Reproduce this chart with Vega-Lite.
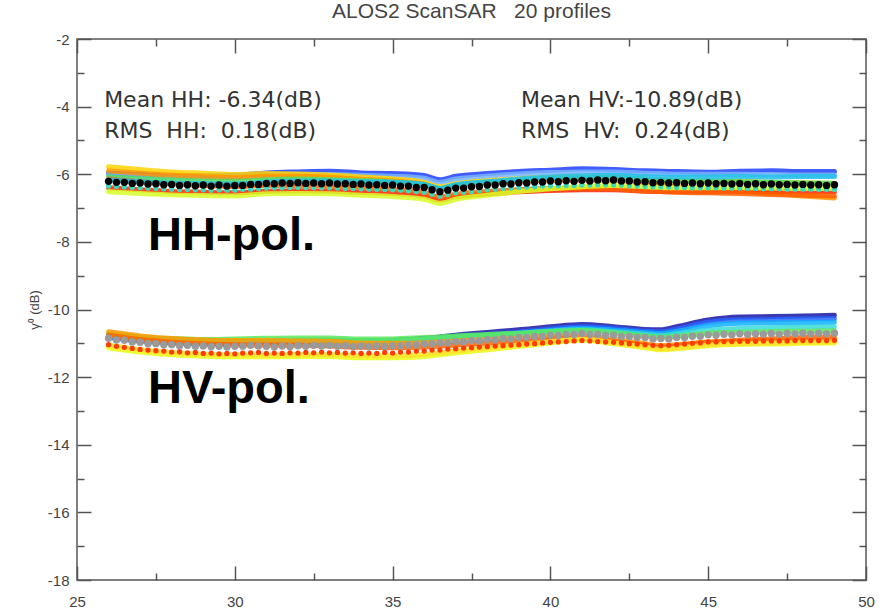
{
"$schema": "https://vega.github.io/schema/vega-lite/v6.json",
"width": 789, "height": 541,
"autosize": "none",
"padding": {"left": 77, "top": 39, "right": 21, "bottom": 35},
"background": "white",
"config": {"view": {"stroke": "#555", "strokeWidth": 1.5}},
"title": {"text": "ALOS2 ScanSAR\u00a0\u00a0\u00a020 profiles", "font": "Liberation Sans", "fontSize": 21, "fontWeight": "normal", "color": "#444", "offset": 10},
"datasets": {
"lines": [
{"x":26,"HH01":-5.97,"HH02":-6.02,"HH03":-5.78,"HH04":-5.90,"HH05":-6.07,"HH06":-6.40,"HH07":-6.14,"HH08":-6.52,"HH09":-6.17,"HV01":-10.81,"HV02":-10.82,"HV03":-10.78,"HV04":-10.74,"HV05":-10.71,"HV06":-10.66,"HV07":-10.76,"HV08":-11.14,"HV09":-11.06},
{"x":27,"HH01":-6.01,"HH02":-6.06,"HH03":-5.86,"HH04":-5.97,"HH05":-6.13,"HH06":-6.46,"HH07":-6.22,"HH08":-6.57,"HH09":-6.22,"HV01":-10.91,"HV02":-10.93,"HV03":-10.88,"HV04":-10.85,"HV05":-10.81,"HV06":-10.78,"HV07":-10.89,"HV08":-11.26,"HV09":-11.19},
{"x":28,"HH01":-6.03,"HH02":-6.09,"HH03":-5.93,"HH04":-6.03,"HH05":-6.17,"HH06":-6.51,"HH07":-6.28,"HH08":-6.61,"HH09":-6.26,"HV01":-10.96,"HV02":-10.99,"HV03":-10.94,"HV04":-10.91,"HV05":-10.86,"HV06":-10.86,"HV07":-10.97,"HV08":-11.34,"HV09":-11.27},
{"x":29,"HH01":-6.04,"HH02":-6.10,"HH03":-5.97,"HH04":-6.07,"HH05":-6.20,"HH06":-6.53,"HH07":-6.33,"HH08":-6.63,"HH09":-6.28,"HV01":-10.98,"HV02":-11.01,"HV03":-10.97,"HV04":-10.94,"HV05":-10.89,"HV06":-10.90,"HV07":-11.02,"HV08":-11.38,"HV09":-11.32},
{"x":30,"HH01":-6.03,"HH02":-6.10,"HH03":-6.01,"HH04":-6.10,"HH05":-6.21,"HH06":-6.55,"HH07":-6.36,"HH08":-6.64,"HH09":-6.29,"HV01":-10.97,"HV02":-11.01,"HV03":-10.97,"HV04":-10.94,"HV05":-10.87,"HV06":-10.92,"HV07":-11.04,"HV08":-11.40,"HV09":-11.34},
{"x":31,"HH01":-5.96,"HH02":-6.03,"HH03":-5.98,"HH04":-6.06,"HH05":-6.16,"HH06":-6.50,"HH07":-6.33,"HH08":-6.58,"HH09":-6.23,"HV01":-10.95,"HV02":-10.98,"HV03":-10.95,"HV04":-10.92,"HV05":-10.85,"HV06":-10.92,"HV07":-11.05,"HV08":-11.40,"HV09":-11.35},
{"x":32,"HH01":-5.93,"HH02":-6.00,"HH03":-5.99,"HH04":-6.06,"HH05":-6.14,"HH06":-6.49,"HH07":-6.33,"HH08":-6.57,"HH09":-6.20,"HV01":-10.92,"HV02":-10.96,"HV03":-10.93,"HV04":-10.90,"HV05":-10.84,"HV06":-10.93,"HV07":-11.06,"HV08":-11.39,"HV09":-11.34},
{"x":33,"HH01":-5.91,"HH02":-6.01,"HH03":-6.02,"HH04":-6.09,"HH05":-6.16,"HH06":-6.50,"HH07":-6.36,"HH08":-6.58,"HH09":-6.20,"HV01":-10.91,"HV02":-10.95,"HV03":-10.92,"HV04":-10.90,"HV05":-10.84,"HV06":-10.94,"HV07":-11.08,"HV08":-11.39,"HV09":-11.34},
{"x":34,"HH01":-5.96,"HH02":-6.03,"HH03":-6.08,"HH04":-6.15,"HH05":-6.19,"HH06":-6.54,"HH07":-6.40,"HH08":-6.62,"HH09":-6.22,"HV01":-10.92,"HV02":-10.96,"HV03":-10.94,"HV04":-10.92,"HV05":-10.87,"HV06":-10.99,"HV07":-11.12,"HV08":-11.43,"HV09":-11.37},
{"x":35,"HH01":-5.98,"HH02":-6.06,"HH03":-6.14,"HH04":-6.20,"HH05":-6.23,"HH06":-6.57,"HH07":-6.45,"HH08":-6.66,"HH09":-6.24,"HV01":-10.91,"HV02":-10.95,"HV03":-10.93,"HV04":-10.92,"HV05":-10.87,"HV06":-11.00,"HV07":-11.13,"HV08":-11.43,"HV09":-11.37},
{"x":36,"HH01":-6.04,"HH02":-6.12,"HH03":-6.24,"HH04":-6.29,"HH05":-6.30,"HH06":-6.65,"HH07":-6.54,"HH08":-6.74,"HH09":-6.30,"HV01":-10.85,"HV02":-10.89,"HV03":-10.88,"HV04":-10.88,"HV05":-10.83,"HV06":-10.98,"HV07":-11.11,"HV08":-11.39,"HV09":-11.33},
{"x":36.5,"HH01":-6.16,"HH02":-6.24,"HH03":-6.37,"HH04":-6.42,"HH05":-6.42,"HH06":-6.77,"HH07":-6.67,"HH08":-6.86,"HH09":-6.42,"HV01":-10.81,"HV02":-10.86,"HV03":-10.85,"HV04":-10.85,"HV05":-10.81,"HV06":-10.96,"HV07":-11.08,"HV08":-11.34,"HV09":-11.28},
{"x":37,"HH01":-6.06,"HH02":-6.14,"HH03":-6.28,"HH04":-6.33,"HH05":-6.32,"HH06":-6.67,"HH07":-6.59,"HH08":-6.74,"HH09":-6.31,"HV01":-10.76,"HV02":-10.82,"HV03":-10.81,"HV04":-10.82,"HV05":-10.78,"HV06":-10.93,"HV07":-11.05,"HV08":-11.28,"HV09":-11.23},
{"x":38,"HH01":-5.98,"HH02":-6.06,"HH03":-6.19,"HH04":-6.26,"HH05":-6.24,"HH06":-6.59,"HH07":-6.51,"HH08":-6.62,"HH09":-6.22,"HV01":-10.68,"HV02":-10.75,"HV03":-10.76,"HV04":-10.77,"HV05":-10.74,"HV06":-10.89,"HV07":-11.00,"HV08":-11.19,"HV09":-11.14},
{"x":39,"HH01":-5.92,"HH02":-5.99,"HH03":-6.13,"HH04":-6.21,"HH05":-6.17,"HH06":-6.52,"HH07":-6.46,"HH08":-6.51,"HH09":-6.14,"HV01":-10.60,"HV02":-10.67,"HV03":-10.70,"HV04":-10.71,"HV05":-10.70,"HV06":-10.85,"HV07":-10.94,"HV08":-11.09,"HV09":-11.05},
{"x":40,"HH01":-5.88,"HH02":-5.95,"HH03":-6.09,"HH04":-6.17,"HH05":-6.12,"HH06":-6.48,"HH07":-6.42,"HH08":-6.43,"HH09":-6.08,"HV01":-10.51,"HV02":-10.58,"HV03":-10.62,"HV04":-10.64,"HV05":-10.65,"HV06":-10.80,"HV07":-10.88,"HV08":-10.99,"HV09":-10.95},
{"x":41,"HH01":-5.84,"HH02":-5.93,"HH03":-6.08,"HH04":-6.17,"HH05":-6.11,"HH06":-6.46,"HH07":-6.42,"HH08":-6.37,"HH09":-6.05,"HV01":-10.44,"HV02":-10.51,"HV03":-10.56,"HV04":-10.60,"HV05":-10.62,"HV06":-10.77,"HV07":-10.84,"HV08":-10.90,"HV09":-10.87},
{"x":42,"HH01":-5.86,"HH02":-5.93,"HH03":-6.08,"HH04":-6.18,"HH05":-6.10,"HH06":-6.46,"HH07":-6.43,"HH08":-6.33,"HH09":-6.03,"HV01":-10.51,"HV02":-10.56,"HV03":-10.61,"HV04":-10.66,"HV05":-10.69,"HV06":-10.88,"HV07":-10.94,"HV08":-11.01,"HV09":-10.98},
{"x":43,"HH01":-5.90,"HH02":-5.97,"HH03":-6.14,"HH04":-6.28,"HH05":-6.15,"HH06":-6.50,"HH07":-6.49,"HH08":-6.37,"HH09":-6.07,"HV01":-10.59,"HV02":-10.64,"HV03":-10.68,"HV04":-10.73,"HV05":-10.78,"HV06":-11.01,"HV07":-11.06,"HV08":-11.13,"HV09":-11.11},
{"x":43.5,"HH01":-5.91,"HH02":-5.98,"HH03":-6.16,"HH04":-6.33,"HH05":-6.17,"HH06":-6.51,"HH07":-6.51,"HH08":-6.39,"HH09":-6.08,"HV01":-10.60,"HV02":-10.66,"HV03":-10.71,"HV04":-10.77,"HV05":-10.82,"HV06":-11.07,"HV07":-11.12,"HV08":-11.19,"HV09":-11.17},
{"x":44,"HH01":-5.92,"HH02":-6.00,"HH03":-6.17,"HH04":-6.37,"HH05":-6.19,"HH06":-6.52,"HH07":-6.53,"HH08":-6.40,"HH09":-6.08,"HV01":-10.51,"HV02":-10.58,"HV03":-10.65,"HV04":-10.72,"HV05":-10.79,"HV06":-11.04,"HV07":-11.08,"HV08":-11.16,"HV09":-11.14},
{"x":45,"HH01":-5.94,"HH02":-6.00,"HH03":-6.19,"HH04":-6.43,"HH05":-6.20,"HH06":-6.52,"HH07":-6.55,"HH08":-6.40,"HH09":-6.08,"HV01":-10.31,"HV02":-10.38,"HV03":-10.48,"HV04":-10.61,"HV05":-10.70,"HV06":-10.96,"HV07":-10.97,"HV08":-11.07,"HV09":-11.05},
{"x":46,"HH01":-5.91,"HH02":-6.00,"HH03":-6.21,"HH04":-6.50,"HH05":-6.22,"HH06":-6.51,"HH07":-6.57,"HH08":-6.40,"HH09":-6.07,"HV01":-10.22,"HV02":-10.31,"HV03":-10.41,"HV04":-10.56,"HV05":-10.67,"HV06":-10.94,"HV07":-10.91,"HV08":-11.03,"HV09":-11.01},
{"x":47,"HH01":-5.90,"HH02":-6.01,"HH03":-6.24,"HH04":-6.57,"HH05":-6.24,"HH06":-6.52,"HH07":-6.60,"HH08":-6.41,"HH09":-6.08,"HV01":-10.21,"HV02":-10.30,"HV03":-10.40,"HV04":-10.54,"HV05":-10.65,"HV06":-10.93,"HV07":-10.87,"HV08":-11.02,"HV09":-10.99},
{"x":48,"HH01":-5.92,"HH02":-6.02,"HH03":-6.25,"HH04":-6.64,"HH05":-6.26,"HH06":-6.52,"HH07":-6.62,"HH08":-6.42,"HH09":-6.07,"HV01":-10.19,"HV02":-10.28,"HV03":-10.39,"HV04":-10.52,"HV05":-10.64,"HV06":-10.93,"HV07":-10.83,"HV08":-11.00,"HV09":-10.97},
{"x":49,"HH01":-5.92,"HH02":-6.02,"HH03":-6.27,"HH04":-6.70,"HH05":-6.27,"HH06":-6.52,"HH07":-6.64,"HH08":-6.42,"HH09":-6.07,"HV01":-10.17,"HV02":-10.27,"HV03":-10.38,"HV04":-10.51,"HV05":-10.63,"HV06":-10.93,"HV07":-10.81,"HV08":-10.99,"HV09":-10.96}
],
"dots": [
{"x":26.00,"HHm":-6.21,"HHp":-6.35,"HVm":-10.85,"HVp":-11.04},
{"x":26.25,"HHm":-6.24,"HHp":-6.36,"HVm":-10.90,"HVp":-11.09},
{"x":26.50,"HHm":-6.24,"HHp":-6.38,"HVm":-10.91,"HVp":-11.12},
{"x":26.75,"HHm":-6.27,"HHp":-6.39,"HVm":-10.96,"HVp":-11.15},
{"x":27.00,"HHm":-6.26,"HHp":-6.40,"HVm":-10.97,"HVp":-11.18},
{"x":27.25,"HHm":-6.29,"HHp":-6.41,"HVm":-11.01,"HVp":-11.20},
{"x":27.50,"HHm":-6.28,"HHp":-6.42,"HVm":-11.01,"HVp":-11.22},
{"x":27.75,"HHm":-6.31,"HHp":-6.43,"HVm":-11.04,"HVp":-11.23},
{"x":28.00,"HHm":-6.30,"HHp":-6.44,"HVm":-11.04,"HVp":-11.26},
{"x":28.25,"HHm":-6.33,"HHp":-6.45,"HVm":-11.07,"HVp":-11.25},
{"x":28.50,"HHm":-6.31,"HHp":-6.45,"HVm":-11.06,"HVp":-11.28},
{"x":28.75,"HHm":-6.34,"HHp":-6.46,"HVm":-11.09,"HVp":-11.27},
{"x":29.00,"HHm":-6.32,"HHp":-6.46,"HVm":-11.08,"HVp":-11.30},
{"x":29.25,"HHm":-6.35,"HHp":-6.47,"HVm":-11.10,"HVp":-11.29},
{"x":29.50,"HHm":-6.32,"HHp":-6.46,"HVm":-11.09,"HVp":-11.31},
{"x":29.75,"HHm":-6.35,"HHp":-6.47,"HVm":-11.11,"HVp":-11.30},
{"x":30.00,"HHm":-6.33,"HHp":-6.47,"HVm":-11.09,"HVp":-11.31},
{"x":30.25,"HHm":-6.33,"HHp":-6.45,"HVm":-11.09,"HVp":-11.29},
{"x":30.50,"HHm":-6.30,"HHp":-6.44,"HVm":-11.06,"HVp":-11.28},
{"x":30.75,"HHm":-6.30,"HHp":-6.42,"HVm":-11.08,"HVp":-11.27},
{"x":31.00,"HHm":-6.27,"HHp":-6.41,"HVm":-11.09,"HVp":-11.30},
{"x":31.25,"HHm":-6.28,"HHp":-6.40,"HVm":-11.11,"HVp":-11.29},
{"x":31.50,"HHm":-6.26,"HHp":-6.40,"HVm":-11.08,"HVp":-11.30},
{"x":31.75,"HHm":-6.27,"HHp":-6.39,"HVm":-11.10,"HVp":-11.28},
{"x":32.00,"HHm":-6.25,"HHp":-6.39,"HVm":-11.07,"HVp":-11.29},
{"x":32.25,"HHm":-6.27,"HHp":-6.39,"HVm":-11.09,"HVp":-11.27},
{"x":32.50,"HHm":-6.26,"HHp":-6.40,"HVm":-11.06,"HVp":-11.28},
{"x":32.75,"HHm":-6.28,"HHp":-6.40,"HVm":-11.08,"HVp":-11.26},
{"x":33.00,"HHm":-6.26,"HHp":-6.40,"HVm":-11.06,"HVp":-11.28},
{"x":33.25,"HHm":-6.29,"HHp":-6.41,"HVm":-11.09,"HVp":-11.27},
{"x":33.50,"HHm":-6.28,"HHp":-6.42,"HVm":-11.07,"HVp":-11.29},
{"x":33.75,"HHm":-6.30,"HHp":-6.42,"HVm":-11.10,"HVp":-11.28},
{"x":34.00,"HHm":-6.29,"HHp":-6.43,"HVm":-11.08,"HVp":-11.30},
{"x":34.25,"HHm":-6.32,"HHp":-6.44,"HVm":-11.10,"HVp":-11.29},
{"x":34.50,"HHm":-6.31,"HHp":-6.45,"HVm":-11.08,"HVp":-11.30},
{"x":34.75,"HHm":-6.33,"HHp":-6.45,"HVm":-11.09,"HVp":-11.27},
{"x":35.00,"HHm":-6.32,"HHp":-6.46,"HVm":-11.07,"HVp":-11.29},
{"x":35.25,"HHm":-6.35,"HHp":-6.47,"HVm":-11.08,"HVp":-11.26},
{"x":35.50,"HHm":-6.35,"HHp":-6.49,"HVm":-11.05,"HVp":-11.26},
{"x":35.75,"HHm":-6.39,"HHp":-6.51,"HVm":-11.05,"HVp":-11.23},
{"x":36.00,"HHm":-6.39,"HHp":-6.53,"HVm":-11.02,"HVp":-11.23},
{"x":36.25,"HHm":-6.46,"HHp":-6.59,"HVm":-11.02,"HVp":-11.20},
{"x":36.50,"HHm":-6.52,"HHp":-6.65,"HVm":-10.99,"HVp":-11.20},
{"x":36.75,"HHm":-6.47,"HHp":-6.60,"HVm":-10.99,"HVp":-11.17},
{"x":37.00,"HHm":-6.41,"HHp":-6.55,"HVm":-10.95,"HVp":-11.16},
{"x":37.25,"HHm":-6.41,"HHp":-6.53,"HVm":-10.96,"HVp":-11.14},
{"x":37.50,"HHm":-6.37,"HHp":-6.51,"HVm":-10.92,"HVp":-11.13},
{"x":37.75,"HHm":-6.36,"HHp":-6.48,"HVm":-10.93,"HVp":-11.11},
{"x":38.00,"HHm":-6.32,"HHp":-6.46,"HVm":-10.89,"HVp":-11.10},
{"x":38.25,"HHm":-6.32,"HHp":-6.44,"HVm":-10.90,"HVp":-11.08},
{"x":38.50,"HHm":-6.28,"HHp":-6.42,"HVm":-10.86,"HVp":-11.07},
{"x":38.75,"HHm":-6.29,"HHp":-6.41,"HVm":-10.87,"HVp":-11.05},
{"x":39.00,"HHm":-6.25,"HHp":-6.39,"HVm":-10.83,"HVp":-11.04},
{"x":39.25,"HHm":-6.26,"HHp":-6.38,"HVm":-10.83,"HVp":-11.02},
{"x":39.50,"HHm":-6.23,"HHp":-6.37,"HVm":-10.80,"HVp":-11.01},
{"x":39.75,"HHm":-6.23,"HHp":-6.35,"HVm":-10.80,"HVp":-10.99},
{"x":40.00,"HHm":-6.20,"HHp":-6.34,"HVm":-10.76,"HVp":-10.97},
{"x":40.25,"HHm":-6.22,"HHp":-6.34,"HVm":-10.77,"HVp":-10.96},
{"x":40.50,"HHm":-6.19,"HHp":-6.33,"HVm":-10.74,"HVp":-10.95},
{"x":40.75,"HHm":-6.21,"HHp":-6.33,"HVm":-10.74,"HVp":-10.93},
{"x":41.00,"HHm":-6.18,"HHp":-6.32,"HVm":-10.71,"HVp":-10.92},
{"x":41.25,"HHm":-6.20,"HHp":-6.32,"HVm":-10.74,"HVp":-10.93},
{"x":41.50,"HHm":-6.17,"HHp":-6.31,"HVm":-10.74,"HVp":-10.95},
{"x":41.75,"HHm":-6.19,"HHp":-6.31,"HVm":-10.77,"HVp":-10.96},
{"x":42.00,"HHm":-6.17,"HHp":-6.31,"HVm":-10.76,"HVp":-10.97},
{"x":42.25,"HHm":-6.20,"HHp":-6.32,"HVm":-10.80,"HVp":-10.99},
{"x":42.50,"HHm":-6.20,"HHp":-6.34,"HVm":-10.80,"HVp":-11.01},
{"x":42.75,"HHm":-6.23,"HHp":-6.35,"HVm":-10.83,"HVp":-11.02},
{"x":43.00,"HHm":-6.22,"HHp":-6.36,"HVm":-10.83,"HVp":-11.04},
{"x":43.25,"HHm":-6.25,"HHp":-6.37,"HVm":-10.87,"HVp":-11.06},
{"x":43.50,"HHm":-6.24,"HHp":-6.38,"HVm":-10.86,"HVp":-11.07},
{"x":43.75,"HHm":-6.26,"HHp":-6.38,"HVm":-10.87,"HVp":-11.06},
{"x":44.00,"HHm":-6.25,"HHp":-6.39,"HVm":-10.83,"HVp":-11.04},
{"x":44.25,"HHm":-6.27,"HHp":-6.39,"HVm":-10.83,"HVp":-11.02},
{"x":44.50,"HHm":-6.26,"HHp":-6.40,"HVm":-10.79,"HVp":-11.00},
{"x":44.75,"HHm":-6.28,"HHp":-6.40,"HVm":-10.79,"HVp":-10.99},
{"x":45.00,"HHm":-6.26,"HHp":-6.40,"HVm":-10.75,"HVp":-10.96},
{"x":45.25,"HHm":-6.28,"HHp":-6.40,"HVm":-10.76,"HVp":-10.96},
{"x":45.50,"HHm":-6.27,"HHp":-6.41,"HVm":-10.73,"HVp":-10.95},
{"x":45.75,"HHm":-6.29,"HHp":-6.41,"HVm":-10.75,"HVp":-10.95},
{"x":46.00,"HHm":-6.27,"HHp":-6.41,"HVm":-10.72,"HVp":-10.94},
{"x":46.25,"HHm":-6.30,"HHp":-6.42,"HVm":-10.74,"HVp":-10.94},
{"x":46.50,"HHm":-6.28,"HHp":-6.42,"HVm":-10.72,"HVp":-10.94},
{"x":46.75,"HHm":-6.31,"HHp":-6.43,"HVm":-10.73,"HVp":-10.93},
{"x":47.00,"HHm":-6.29,"HHp":-6.43,"HVm":-10.71,"HVp":-10.93},
{"x":47.25,"HHm":-6.31,"HHp":-6.43,"HVm":-10.73,"HVp":-10.93},
{"x":47.50,"HHm":-6.30,"HHp":-6.44,"HVm":-10.71,"HVp":-10.93},
{"x":47.75,"HHm":-6.32,"HHp":-6.44,"HVm":-10.72,"HVp":-10.92},
{"x":48.00,"HHm":-6.30,"HHp":-6.44,"HVm":-10.70,"HVp":-10.92},
{"x":48.25,"HHm":-6.32,"HHp":-6.44,"HVm":-10.72,"HVp":-10.92},
{"x":48.50,"HHm":-6.31,"HHp":-6.45,"HVm":-10.70,"HVp":-10.92},
{"x":48.75,"HHm":-6.33,"HHp":-6.45,"HVm":-10.72,"HVp":-10.92},
{"x":49.00,"HHm":-6.31,"HHp":-6.45,"HVm":-10.70,"HVp":-10.91}
]
},
"layer": [
{
"data": {"name": "lines"},
"transform": [{"fold": ["HH01","HH02","HH03","HH04","HH05","HH06","HH07","HH08","HH09","HV01","HV02","HV03","HV04","HV05","HV06","HV07","HV08","HV09"], "as": ["s","v"]}],
"mark": {"type": "line", "strokeWidth": 5, "opacity": 0.85, "strokeJoin": "round", "strokeCap": "round", "interpolate": "monotone"},
"encoding": {
"x": {"field": "x", "type": "quantitative", "scale": {"domain": [25,50], "nice": false, "zero": false},
"axis": {"orient": "bottom", "values": [25,27.5,30,32.5,35,37.5,40,42.5,45,47.5,50], "tickSize": {"condition": {"test": "datum.value % 5 === 0", "value": -14}, "value": -7}, "labelExpr": "datum.value % 5 === 0 ? '' + datum.value : ''", "labelPadding": 28, "labelFlush": false, "labelOverlap": false, "domain": false, "grid": false, "tickColor": "#555", "tickWidth": 1.5, "labelFont": "Liberation Sans", "labelFontSize": 15, "labelColor": "#444", "title": null}},
"y": {"field": "v", "type": "quantitative", "scale": {"domain": [-18,-2], "nice": false, "zero": false},
"axis": {"orient": "left", "values": [-18,-17,-16,-15,-14,-13,-12,-11,-10,-9,-8,-7,-6,-5,-4,-3,-2], "tickSize": {"condition": {"test": "datum.value % 2 === 0", "value": -14}, "value": -7}, "labelExpr": "datum.value % 2 === 0 ? '' + datum.value : ''", "labelPadding": 22, "labelOverlap": false, "labelFlush": false, "domain": false, "grid": false, "tickColor": "#555", "tickWidth": 1.5, "labelFont": "Liberation Sans", "labelFontSize": 15, "labelColor": "#444", "title": "γ⁰ (dB)", "titleFont": "Liberation Sans", "titleFontSize": 13, "titleFontWeight": "normal", "titleColor": "#444", "titlePadding": 6}},
"color": {"field": "s", "type": "nominal", "legend": null,
"scale": {"domain": ["HH01","HH02","HH03","HH04","HH05","HH06","HH07","HH08","HH09","HV01","HV02","HV03","HV04","HV05","HV06","HV07","HV08","HV09","HHm","HHp","HVm","HVp"],
"range": ["#2040ff","#78b4ff","#ffd400","#ff9400","#50dd60","#ff2400","#ff6000","#d8ff28","#20c0e8","#1818a8","#2866ff","#10b0ff","#38dcd8","#5ce85c","#ff9a00","#ff6200","#e8ff10","#ffe030","#000000","#3cd8b8","#9a9a9a","#ff3c00"]}}
}
},
{
"data": {"name": "dots"},
"transform": [{"fold": ["HHp","HVp"], "as": ["s","v"]}],
"mark": {"type": "point", "filled": true, "shape": "circle", "size": 28, "opacity": 1, "strokeWidth": 0},
"encoding": {
"x": {"field": "x", "type": "quantitative", "scale": {"domain": [25,50], "nice": false, "zero": false},
"axis": {"orient": "top", "values": [25,27.5,30,32.5,35,37.5,40,42.5,45,47.5,50], "tickSize": {"condition": {"test": "datum.value % 5 === 0", "value": -14}, "value": -7}, "labels": false, "domain": false, "grid": false, "tickColor": "#555", "tickWidth": 1.5, "title": null}},
"y": {"field": "v", "type": "quantitative", "scale": {"domain": [-18,-2], "nice": false, "zero": false},
"axis": {"orient": "right", "values": [-18,-17,-16,-15,-14,-13,-12,-11,-10,-9,-8,-7,-6,-5,-4,-3,-2], "tickSize": {"condition": {"test": "datum.value % 2 === 0", "value": -14}, "value": -7}, "labels": false, "domain": false, "grid": false, "tickColor": "#555", "tickWidth": 1.5, "title": null}},
"color": {"field": "s", "type": "nominal", "legend": null}
}
},
{
"data": {"name": "dots"},
"transform": [{"fold": ["HHm","HVm"], "as": ["s","v"]}],
"mark": {"type": "point", "filled": true, "shape": "circle", "size": 55, "opacity": 1, "strokeWidth": 0},
"encoding": {
"x": {"field": "x", "type": "quantitative", "scale": {"domain": [25,50], "nice": false, "zero": false}, "axis": null},
"y": {"field": "v", "type": "quantitative", "scale": {"domain": [-18,-2], "nice": false, "zero": false}, "axis": null},
"color": {"field": "s", "type": "nominal", "legend": null}
}
},
{
"data": {"values": [{}]},
"mark": {"type": "text", "text": "Mean HH: -6.34(dB)", "align": "left", "baseline": "alphabetic", "font": "DejaVu Sans", "fontSize": 22, "color": "#333"},
"encoding": {"x": {"datum": 25.86, "type": "quantitative", "axis": null}, "y": {"datum": -4.01, "type": "quantitative", "axis": null}}
},
{
"data": {"values": [{}]},
"mark": {"type": "text", "text": "RMS\u00a0 HH:\u00a0 0.18(dB)", "align": "left", "baseline": "alphabetic", "font": "DejaVu Sans", "fontSize": 22, "color": "#333"},
"encoding": {"x": {"datum": 25.86, "type": "quantitative", "axis": null}, "y": {"datum": -4.93, "type": "quantitative", "axis": null}}
},
{
"data": {"values": [{}]},
"mark": {"type": "text", "text": "Mean HV:-10.89(dB)", "align": "left", "baseline": "alphabetic", "font": "DejaVu Sans", "fontSize": 22, "color": "#333"},
"encoding": {"x": {"datum": 39.07, "type": "quantitative", "axis": null}, "y": {"datum": -4.01, "type": "quantitative", "axis": null}}
},
{
"data": {"values": [{}]},
"mark": {"type": "text", "text": "RMS\u00a0 HV:\u00a0 0.24(dB)", "align": "left", "baseline": "alphabetic", "font": "DejaVu Sans", "fontSize": 22, "color": "#333"},
"encoding": {"x": {"datum": 39.07, "type": "quantitative", "axis": null}, "y": {"datum": -4.93, "type": "quantitative", "axis": null}}
},
{
"data": {"values": [{}]},
"mark": {"type": "text", "text": "HH-pol.", "align": "left", "baseline": "alphabetic", "font": "Liberation Sans", "fontWeight": "bold", "fontSize": 47, "color": "#000"},
"encoding": {"x": {"datum": 27.25, "type": "quantitative", "axis": null}, "y": {"datum": -8.24, "type": "quantitative", "axis": null}}
},
{
"data": {"values": [{}]},
"mark": {"type": "text", "text": "HV-pol.", "align": "left", "baseline": "alphabetic", "font": "Liberation Sans", "fontWeight": "bold", "fontSize": 47, "color": "#000"},
"encoding": {"x": {"datum": 27.25, "type": "quantitative", "axis": null}, "y": {"datum": -12.77, "type": "quantitative", "axis": null}}
}
],
"resolve": {"axis": {"x": "independent", "y": "independent"}}
}
